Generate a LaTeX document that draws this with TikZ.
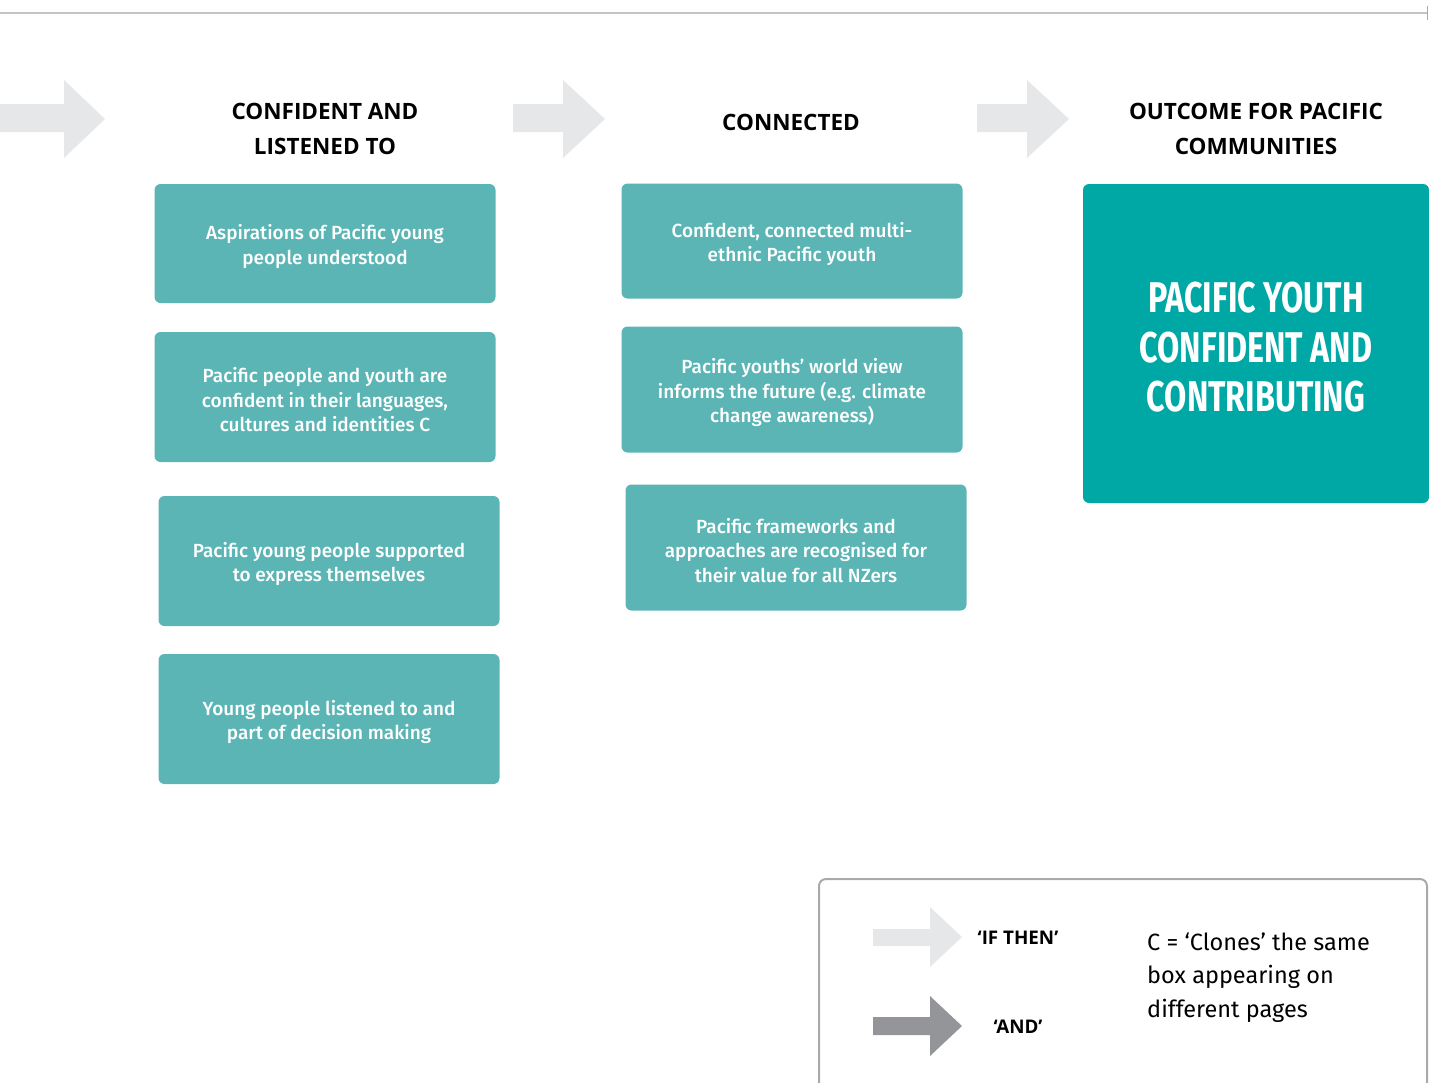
\documentclass[tikz,border=0pt]{standalone}
\usepackage{fontspec}
\setmainfont{Fira Sans}
\newfontfamily\bodyfont{Fira Sans}[UprightFont=* Medium]
\newfontfamily\headfont{Open Sans}
\newfontfamily\titlefont[FakeStretch=0.75]{Fira Sans}
\definecolor{boxc}{HTML}{5CB5B5}
\definecolor{bigc}{HTML}{00A8A5}
\definecolor{arrl}{HTML}{E6E7E8}
\definecolor{arrd}{HTML}{939598}
\definecolor{linec}{HTML}{C3C4C6}
\definecolor{legc}{HTML}{A7A9AC}
\newcommand{\bxtext}[1]{\raisebox{-3pt}[\height][\depth]{\parbox{335pt}{\centering #1}}}
\begin{document}
\begin{tikzpicture}[x=1pt,y=-1pt,
  smallbox/.style={rounded corners=6pt, fill=boxc, text=white, inner sep=0pt,
    minimum width=341pt, align=center,
    font={\bodyfont\fontsize{19}{24.5}\selectfont}},
  header/.style={align=center, font={\headfont\bfseries\fontsize{22.5}{35}\selectfont}},
  lightarrow/.style={fill=arrl},
  darkarrow/.style={fill=arrd}]
\useasboundingbox (0,0) rectangle (1429,1082);
% top rule
\draw[linec, line width=2.5pt] (0,13) -- (1427,13);
\draw[legc, line width=1pt] (1427.5,6) -- (1427.5,20);
% flow arrows
\fill[lightarrow] (0,104) -- (64,104) -- (64,80) -- (105,119) -- (64,158) -- (64,132) -- (0,132) -- cycle;
\fill[lightarrow] (513,104) -- (563,104) -- (563,80) -- (605,119) -- (563,158) -- (563,132) -- (513,132) -- cycle;
\fill[lightarrow] (977,104) -- (1027,104) -- (1027,80) -- (1069,119) -- (1027,158) -- (1027,132) -- (977,132) -- cycle;
% headers
\node[header] (h1) at (325,128.5) {CONFIDENT AND\\LISTENED TO};
\node[header] (h2) at (791,122) {CONNECTED};
\node[header] (h3) at (1256,128.5) {OUTCOME FOR PACIFIC\\COMMUNITIES};
% column 1
\node[smallbox, minimum height=119pt] (b1) at (325,243.5) {\bxtext{Aspirations of Pacific young\\people understood}};
\node[smallbox, minimum height=130pt] (b2) at (325,397) {\bxtext{Pacific people and youth are\\confident in their languages,\\cultures and identities C}};
\node[smallbox, minimum height=130pt] (b3) at (329,561) {\bxtext{Pacific young people supported\\to express themselves}};
\node[smallbox, minimum height=130pt] (b4) at (329,719) {\bxtext{Young people listened to and\\part of decision making}};
% column 2
\node[smallbox, minimum height=115pt] (b5) at (792,241) {\bxtext{Confident, connected multi-\\ethnic Pacific youth}};
\node[smallbox, minimum height=126pt] (b6) at (792,389.5) {\bxtext{Pacific youths’ world view\\informs the future (e.g. climate\\change awareness)}};
\node[smallbox, minimum height=126pt] (b7) at (796,547.5) {\bxtext{Pacific frameworks and\\approaches are recognised for\\their value for all NZers}};
% outcome
\node[rounded corners=6pt, fill=bigc, text=white, inner sep=0pt,
  minimum width=346pt, minimum height=319pt, align=center,
  font={\titlefont\bfseries\fontsize{43}{49.5}\selectfont}] (big) at (1256,343.5)
  {\raisebox{-4pt}[\height][\depth]{\parbox{346pt}{\centering PACIFIC YOUTH\\CONFIDENT AND\\CONTRIBUTING}}};
% legend
\draw[legc, line width=2pt, rounded corners=7pt] (819,1100) -- (819,879) -- (1427,879) -- (1427,1100);
\fill[lightarrow] (873,929) -- (930,929) -- (930,907) -- (962,937) -- (930,967) -- (930,946) -- (873,946) -- cycle;
\fill[darkarrow] (873,1017) -- (930,1017) -- (930,996) -- (962,1026) -- (930,1056) -- (930,1035) -- (873,1035) -- cycle;
\node[font={\headfont\bfseries\fontsize{18.8}{20}\selectfont}] (l1) at (1018,938) {‘IF THEN’};
\node[font={\headfont\bfseries\fontsize{18.8}{20}\selectfont}] (l2) at (1018,1027) {‘AND’};
\node[anchor=base west, align=left, inner sep=0pt,
  font={\fontsize{23.5}{33.5}\selectfont}] (l3) at (1147,1017) {C = ‘Clones’ the same\\box appearing on\\different pages};
\end{tikzpicture}
\end{document}
